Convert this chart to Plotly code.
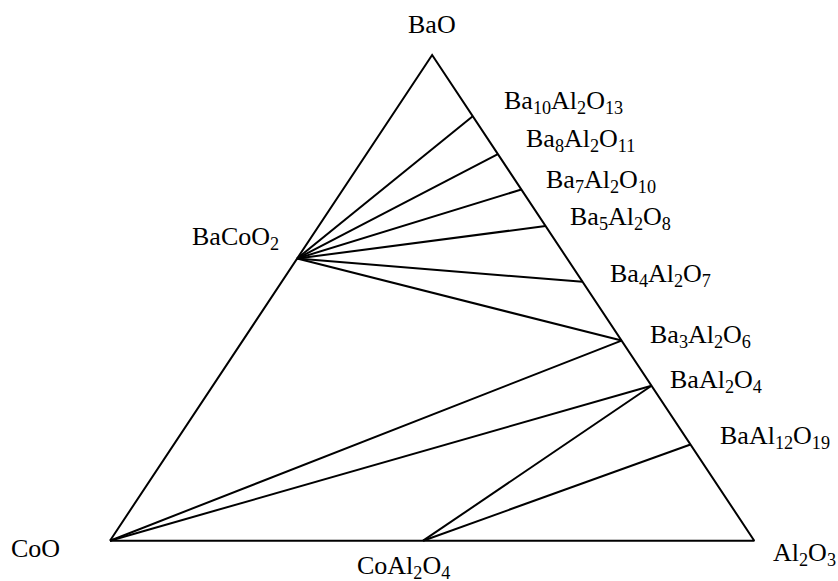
import plotly.graph_objects as go

# ternary diagram BaO - Al2O3 - CoO (schematic, positions)
# each phase: (BaO fraction, Al2O3 fraction)
vertices = {"BaO": (1.0, 0.0), "Al2O3": (0.0, 1.0), "CoO": (0.0, 0.0)}

# phases on the BaO-Al2O3 edge, BaO fraction along the edge
ba_al_names = ["Ba10Al2O13", "Ba8Al2O11", "Ba7Al2O10", "Ba5Al2O8",
               "Ba4Al2O7", "Ba3Al2O6", "BaAl2O4", "BaAl12O19"]
ba_al_frac = [0.874, 0.796, 0.723, 0.648, 0.533, 0.412, 0.319, 0.198]

# BaCoO2 on BaO-CoO edge, CoAl2O4 on CoO-Al2O3 edge
bacoo2_frac = 0.581
coal2o4_frac = 0.486

tie_lines = [("BaCoO2", "Ba10Al2O13"), ("BaCoO2", "Ba8Al2O11"),
             ("BaCoO2", "Ba7Al2O10"), ("BaCoO2", "Ba5Al2O8"),
             ("BaCoO2", "Ba4Al2O7"), ("BaCoO2", "Ba3Al2O6"),
             ("CoO", "Ba3Al2O6"), ("CoO", "BaAl2O4"),
             ("CoAl2O4", "BaAl2O4"), ("CoAl2O4", "BaAl12O19")]

labels = {"BaO": "BaO", "Al2O3": "Al<sub>2</sub>O<sub>3</sub>", "CoO": "CoO",
          "BaCoO2": "BaCoO<sub>2</sub>", "CoAl2O4": "CoAl<sub>2</sub>O<sub>4</sub>",
          "Ba10Al2O13": "Ba<sub>10</sub>Al<sub>2</sub>O<sub>13</sub>",
          "Ba8Al2O11": "Ba<sub>8</sub>Al<sub>2</sub>O<sub>11</sub>",
          "Ba7Al2O10": "Ba<sub>7</sub>Al<sub>2</sub>O<sub>10</sub>",
          "Ba5Al2O8": "Ba<sub>5</sub>Al<sub>2</sub>O<sub>8</sub>",
          "Ba4Al2O7": "Ba<sub>4</sub>Al<sub>2</sub>O<sub>7</sub>",
          "Ba3Al2O6": "Ba<sub>3</sub>Al<sub>2</sub>O<sub>6</sub>",
          "BaAl2O4": "BaAl<sub>2</sub>O<sub>4</sub>",
          "BaAl12O19": "BaAl<sub>12</sub>O<sub>19</sub>"}

comp = dict(vertices)
for n, f in zip(ba_al_names, ba_al_frac):
    comp[n] = (f, 1 - f)
comp["BaCoO2"] = (bacoo2_frac, 0.0)
comp["CoAl2O4"] = (0.0, coal2o4_frac)


def to_xy(name):
    ba, al = comp[name]
    return al + ba / 2, ba


fig = go.Figure()

# triangle
tri = ["CoO", "Al2O3", "BaO", "CoO"]
fig.add_trace(go.Scatter(x=[to_xy(n)[0] for n in tri], y=[to_xy(n)[1] for n in tri],
                         mode="lines", line=dict(color="black", width=2),
                         hoverinfo="skip"))

for a, b in tie_lines:
    xa, ya = to_xy(a)
    xb, yb = to_xy(b)
    fig.add_trace(go.Scatter(x=[xa, xb], y=[ya, yb], mode="lines",
                             line=dict(color="black", width=2), hoverinfo="skip"))

# label offsets in pixels (xshift, yshift, xanchor)
offsets = {"BaO": (0, 31, "center"), "Al2O3": (17, -13, "left"),
           "CoO": (-48, -8, "right"), "BaCoO2": (-107, 21, "left"),
           "CoAl2O4": (-68, -26, "left"),
           "Ba10Al2O13": (29, 14, "left"), "Ba8Al2O11": (26, 14, "left"),
           "Ba7Al2O10": (23, 9, "left"), "Ba5Al2O8": (22, 8, "left"),
           "Ba4Al2O7": (25, 7, "left"), "Ba3Al2O6": (26, 5, "left"),
           "BaAl2O4": (16, 5, "left"), "BaAl12O19": (27, 8, "left")}

for n, (dx, dy, anc) in offsets.items():
    x, y = to_xy(n)
    fig.add_annotation(x=x, y=y, text=labels[n], showarrow=False,
                       xanchor=anc, yanchor="middle", xshift=dx, yshift=dy,
                       font=dict(family="Liberation Serif", size=26, color="black"))

fig.update_layout(width=838, height=581, margin=dict(l=0, r=0, t=0, b=0),
                  paper_bgcolor="white", plot_bgcolor="white", showlegend=False)
fig.update_xaxes(range=[-0.17073, 1.12994], visible=False, fixedrange=True)
fig.update_yaxes(range=[-0.08297, 1.11324], visible=False, fixedrange=True)

# drop the default body margin so the figure fills the window
fig.write_html("out.html", config={"displayModeBar": False},
               post_script="document.body.style.margin='0';document.body.style.overflow='hidden';")
